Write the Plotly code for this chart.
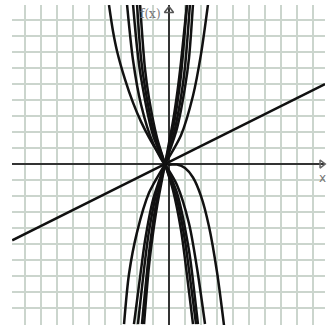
import plotly.graph_objects as go

# Sample points (x, y) along each plotted function
line_x = [-9.8, 9.75]
line_y = [-4.77, 5.0]

dec1_x = [-3.75, -3.5, -3.25, -2.75, -2.25, -1.75, -1.25, -0.75, -0.25, 0.5, 1.0, 1.5, 2.0, 2.5, 3.0, 3.44]
dec1_y = [9.94, 8.3, 7.07, 5.29, 3.84, 2.65, 1.66, 0.8, 0.0, -0.03, -0.25, -0.84, -2.0, -3.9, -6.75, -10.1]

dec2_x = [-2.625, -2.25, -1.75, -1.0, -0.25, 0.5, 1.25, 1.75, 2.25]
dec2_y = [10.0, 6.5, 3.72, 1.31, 0.0, -1.31, -3.72, -6.5, -10.0]

dec3_x = [-2.25, -2.0, -1.75, -1.0, -0.25, 0.5, 1.25, 1.5, 1.81]
dec3_y = [10.0, 7.3, 5.4, 1.8, 0.0, -1.8, -5.4, -7.3, -10.0]

dec4_x = [-2.0, -1.75, -1.5, -1.0, -0.25, 0.5, 1.0, 1.25, 1.69]
dec4_y = [10.0, 6.62, 4.79, 2.23, 0.0, -2.23, -4.79, -6.62, -10.0]

dec5_x = [-1.81, -1.5, -1.25, -0.75, -0.25, 0.25, 0.75, 1.0, 1.5]
dec5_y = [10.0, 5.94, 4.12, 1.64, 0.0, -1.64, -4.12, -5.94, -10.0]

inc1_x = [-2.81, -2.5, -2.0, -1.25, -0.25, 0.75, 1.5, 2.0, 2.44]
inc1_y = [-10.0, -6.87, -4.27, -1.8, 0.0, 1.8, 4.27, 6.87, 10.0]

inc2_x = [-2.19, -1.75, -1.5, -1.0, -0.25, 0.5, 1.0, 1.25, 1.5]
inc2_y = [-10.0, -6.62, -4.79, -2.23, 0.0, 2.23, 4.79, 6.62, 10.0]

inc3_x = [-1.94, -1.5, -1.25, -0.75, -0.25, 0.25, 0.75, 1.0, 1.31]
inc3_y = [-10.0, -6.07, -4.19, -1.65, 0.0, 1.65, 4.19, 6.07, 10.0]

inc4_x = [-1.69, -1.25, -1.0, -0.75, -0.25, 0.25, 0.5, 0.75, 1.125]
inc4_y = [-10.0, -5.56, -3.66, -2.2, 0.0, 2.2, 3.66, 5.56, 10.0]

inc5_x = [-1.56, -1.25, -1.0, -0.75, -0.25, 0.25, 0.5, 0.75, 1.125]
inc5_y = [-10.0, -6.37, -4.33, -2.67, 0.0, 2.67, 4.33, 6.37, 10.0]

curves = [
    (line_x, line_y),
    (dec1_x, dec1_y), (dec2_x, dec2_y), (dec3_x, dec3_y), (dec4_x, dec4_y), (dec5_x, dec5_y),
    (inc1_x, inc1_y), (inc2_x, inc2_y), (inc3_x, inc3_y), (inc4_x, inc4_y), (inc5_x, inc5_y),
]

fig = go.Figure()
for xs, ys in curves:
    fig.add_trace(go.Scatter(
        x=xs, y=ys, mode="lines",
        line=dict(color="#111111", width=2.5, shape="spline", smoothing=0.8),
        hoverinfo="skip", showlegend=False,
    ))

# Arrow heads at the ends of the axes
fig.add_trace(go.Scatter(
    x=[0.0], y=[9.6], mode="markers",
    marker=dict(symbol="triangle-up-open", size=8, color="#555555", line=dict(width=1.5)),
    hoverinfo="skip", showlegend=False, cliponaxis=False,
))
fig.add_trace(go.Scatter(
    x=[9.55], y=[0.0], mode="markers",
    marker=dict(symbol="triangle-right-open", size=7, color="#666666", line=dict(width=1.5)),
    hoverinfo="skip", showlegend=False, cliponaxis=False,
))

fig.add_annotation(x=-1.15, y=9.4, text="f(x)", showarrow=False,
                   font=dict(family="DejaVu Serif", size=12, color="#777777"))
fig.add_annotation(x=9.6, y=-0.85, text="x", showarrow=False,
                   font=dict(family="DejaVu Sans", size=12, color="#777777"))

axis_common = dict(
    dtick=1, showgrid=True, gridcolor="#cbd5cd", gridwidth=1.5,
    zeroline=True, zerolinecolor="#333333", zerolinewidth=2,
    showticklabels=False, ticks="", showline=False,
)

fig.update_layout(
    width=327, height=325,
    margin=dict(l=12, r=2, t=5, b=0),
    paper_bgcolor="white", plot_bgcolor="white",
    xaxis=dict(range=[-9.8125, 9.75], tick0=0, **axis_common),
    yaxis=dict(range=[-10.06, 9.94], tick0=0, **axis_common),
)

fig.write_html("out.html")
